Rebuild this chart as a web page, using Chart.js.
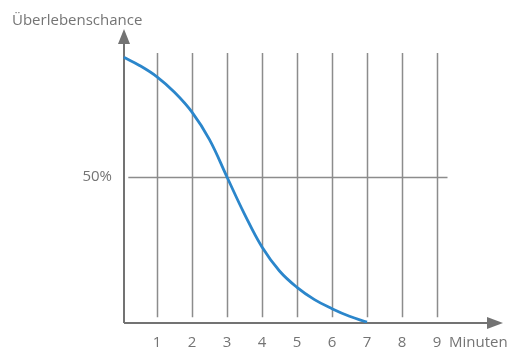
<!DOCTYPE html>
<html>
<head>
<meta charset="utf-8">
<script src="https://cdn.jsdelivr.net/npm/chart.js@4"></script>
<style>
  html, body { margin: 0; padding: 0; background: #fff; }
  #wrap { width: 514px; height: 351px; }
</style>
</head>
<body>
<div id="wrap"><canvas id="chart"></canvas></div>
<script>
const minutes = [0.05, 0.5, 1, 1.5, 2, 2.5, 3, 3.5, 4, 4.5, 5, 5.5, 6, 6.5, 7];
const survival = [91, 88.2, 84.3, 79, 72.2, 62.8, 50, 37.3, 26, 17.8, 12.2, 8, 4.9, 2.3, 0.3];
const xTicks = [1, 2, 3, 4, 5, 6, 7, 8, 9];
const yLabel = "Überlebenschance";
const xLabel = "Minuten";
const midLabel = "50%";

const FONT = '15px "Open Sans", sans-serif';
const GRAY = "#747474";

const sketch = {
  id: "sketch",
  beforeDatasetsDraw(chart) {
    const ctx = chart.ctx;
    const x = chart.scales.x, y = chart.scales.y;
    ctx.save();
    // vertical grid lines
    ctx.strokeStyle = "#8c8c8c";
    ctx.lineWidth = 1.5;
    xTicks.forEach(t => {
      const px = Math.round(x.getPixelForValue(t)) + 0.5;
      ctx.beginPath();
      ctx.moveTo(px, y.getPixelForValue(92.5));
      ctx.lineTo(px, y.getPixelForValue(2));
      ctx.stroke();
    });
    // 50% line
    ctx.beginPath();
    const p50 = Math.round(y.getPixelForValue(50)) + 0.5;
    ctx.moveTo(x.getPixelForValue(0.18), p50);
    ctx.lineTo(x.getPixelForValue(9.3), p50);
    ctx.stroke();

    // axes
    const x0 = x.getPixelForValue(0) + 2, y0 = y.getPixelForValue(0);
    ctx.strokeStyle = "#737373";
    ctx.fillStyle = "#737373";
    ctx.lineWidth = 2;
    ctx.beginPath();
    ctx.moveTo(x0, y0);
    ctx.lineTo(x0, 40);
    ctx.moveTo(x0, y0);
    ctx.lineTo(490, y0);
    ctx.stroke();
    ctx.beginPath();
    ctx.moveTo(x0, 29);
    ctx.lineTo(x0 - 6, 44);
    ctx.lineTo(x0 + 6, 44);
    ctx.closePath();
    ctx.fill();
    ctx.beginPath();
    ctx.moveTo(503, y0);
    ctx.lineTo(487, y0 - 6);
    ctx.lineTo(487, y0 + 6);
    ctx.closePath();
    ctx.fill();

    // text
    ctx.fillStyle = GRAY;
    ctx.font = FONT;
    ctx.textBaseline = "middle";
    ctx.textAlign = "center";
    xTicks.forEach(t => ctx.fillText(String(t), x.getPixelForValue(t), 343));
    ctx.textAlign = "left";
    ctx.fillText(xLabel, 449, 343);
    ctx.fillText(yLabel, 12, 21);
    ctx.textAlign = "right";
    ctx.fillText(midLabel, 112, y.getPixelForValue(50));
    ctx.restore();
  }
};

new Chart(document.getElementById("chart"), {
  type: "line",
  data: {
    labels: minutes,
    datasets: [{
      data: minutes.map((m, i) => ({ x: m, y: survival[i] })),
      borderColor: "#2b86cb",
      borderWidth: 2.8,
      pointRadius: 0,
      fill: false,
      tension: 0.4
    }]
  },
  options: {
    responsive: true,
    maintainAspectRatio: false,
    animation: false,
    layout: { padding: { left: 122, right: 42, top: 31, bottom: 28 } },
    plugins: { legend: { display: false }, tooltip: { enabled: false } },
    scales: {
      x: { type: "linear", min: 0, max: 10, display: false },
      y: { min: 0, max: 100, display: false }
    }
  },
  plugins: [sketch]
});
</script>
</body>
</html>
